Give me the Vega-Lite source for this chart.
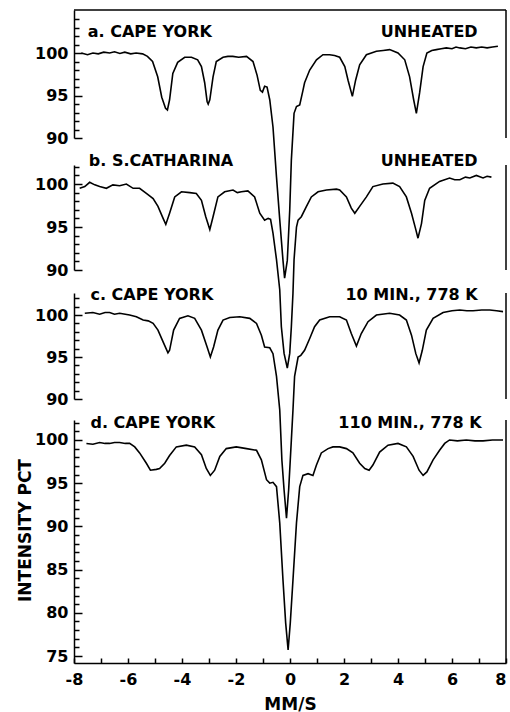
{
  "$schema": "https://vega.github.io/schema/vega-lite/v6.json",
  "width": 432,
  "height": 653,
  "autosize": {"type": "none"},
  "padding": {"left": 74, "top": 10, "right": 4, "bottom": 49},
  "background": "white",
  "config": {
    "view": {"stroke": null},
    "font": "DejaVu Sans",
    "axis": {
      "domainColor": "black", "domainWidth": 1.5,
      "tickColor": "black", "tickWidth": 1.5, "tickCount": 200,
      "labelColor": "black", "labelFont": "DejaVu Sans", "labelFontWeight": "bold", "labelFontSize": 16,
      "titleColor": "black", "titleFont": "DejaVu Sans", "titleFontWeight": "bold", "titleFontSize": 17,
      "grid": false, "labelFlush": false, "labelOverlap": false, "labelBound": false
    }
  },
  "datasets": {
    "a": [
      {"velocity": -7.73, "intensity": 100.0}, {"velocity": -7.5, "intensity": 99.8}, {"velocity": -7.3, "intensity": 100.0}, {"velocity": -7.1, "intensity": 99.9}, {"velocity": -6.9, "intensity": 100.1}, {"velocity": -6.68, "intensity": 100.0}, {"velocity": -6.5, "intensity": 100.15}, {"velocity": -6.3, "intensity": 99.95}, {"velocity": -6.12, "intensity": 100.1}, {"velocity": -5.9, "intensity": 99.9}, {"velocity": -5.7, "intensity": 100.0}, {"velocity": -5.46, "intensity": 99.9}, {"velocity": -5.28, "intensity": 99.6}, {"velocity": -5.09, "intensity": 99.0}, {"velocity": -4.9, "intensity": 97.2}, {"velocity": -4.75, "intensity": 94.8}, {"velocity": -4.61, "intensity": 93.5}, {"velocity": -4.54, "intensity": 93.3}, {"velocity": -4.46, "intensity": 94.5}, {"velocity": -4.34, "intensity": 97.6}, {"velocity": -4.16, "intensity": 98.9}, {"velocity": -3.9, "intensity": 99.5}, {"velocity": -3.65, "intensity": 99.5}, {"velocity": -3.42, "intensity": 99.2}, {"velocity": -3.28, "intensity": 98.4}, {"velocity": -3.16, "intensity": 96.5}, {"velocity": -3.07, "intensity": 94.3}, {"velocity": -3.03, "intensity": 94.0}, {"velocity": -2.97, "intensity": 94.5}, {"velocity": -2.85, "intensity": 97.2}, {"velocity": -2.73, "intensity": 99.0}, {"velocity": -2.48, "intensity": 99.5}, {"velocity": -2.3, "intensity": 99.6}, {"velocity": -2.12, "intensity": 99.6}, {"velocity": -1.9, "intensity": 99.5}, {"velocity": -1.61, "intensity": 99.6}, {"velocity": -1.37, "intensity": 99.0}, {"velocity": -1.22, "intensity": 97.4}, {"velocity": -1.1, "intensity": 95.6}, {"velocity": -1.02, "intensity": 95.4}, {"velocity": -0.94, "intensity": 96.1}, {"velocity": -0.85, "intensity": 96.0}, {"velocity": -0.75, "intensity": 94.5}, {"velocity": -0.63, "intensity": 91.3}, {"velocity": -0.5, "intensity": 85.4}, {"velocity": -0.38, "intensity": 80.4}, {"velocity": -0.26, "intensity": 75.6}, {"velocity": -0.2, "intensity": 73.5}, {"velocity": -0.1, "intensity": 75.6}, {"velocity": -0.01, "intensity": 81.5}, {"velocity": 0.05, "intensity": 87.4}, {"velocity": 0.15, "intensity": 92.9}, {"velocity": 0.24, "intensity": 93.7}, {"velocity": 0.36, "intensity": 93.9}, {"velocity": 0.48, "intensity": 95.6}, {"velocity": 0.54, "intensity": 96.5}, {"velocity": 0.73, "intensity": 98.0}, {"velocity": 0.98, "intensity": 99.2}, {"velocity": 1.22, "intensity": 99.8}, {"velocity": 1.47, "intensity": 99.8}, {"velocity": 1.65, "intensity": 99.7}, {"velocity": 1.84, "intensity": 99.5}, {"velocity": 2.03, "intensity": 98.4}, {"velocity": 2.15, "intensity": 96.8}, {"velocity": 2.31, "intensity": 94.9}, {"velocity": 2.43, "intensity": 96.8}, {"velocity": 2.58, "intensity": 98.6}, {"velocity": 2.83, "intensity": 99.8}, {"velocity": 3.2, "intensity": 100.2}, {"velocity": 3.45, "intensity": 100.3}, {"velocity": 3.69, "intensity": 100.4}, {"velocity": 4.0, "intensity": 100.0}, {"velocity": 4.25, "intensity": 99.2}, {"velocity": 4.43, "intensity": 97.2}, {"velocity": 4.58, "intensity": 94.5}, {"velocity": 4.68, "intensity": 92.9}, {"velocity": 4.8, "intensity": 95.3}, {"velocity": 4.93, "intensity": 98.4}, {"velocity": 5.07, "intensity": 100.0}, {"velocity": 5.25, "intensity": 100.3}, {"velocity": 5.42, "intensity": 100.4}, {"velocity": 5.6, "intensity": 100.5}, {"velocity": 5.79, "intensity": 100.6}, {"velocity": 6.0, "intensity": 100.5}, {"velocity": 6.15, "intensity": 100.7}, {"velocity": 6.29, "intensity": 100.6}, {"velocity": 6.5, "intensity": 100.5}, {"velocity": 6.7, "intensity": 100.7}, {"velocity": 6.9, "intensity": 100.6}, {"velocity": 7.1, "intensity": 100.7}, {"velocity": 7.3, "intensity": 100.6}, {"velocity": 7.5, "intensity": 100.7}, {"velocity": 7.7, "intensity": 100.8}
    ],
    "b": [
      {"velocity": -7.79, "intensity": 99.5}, {"velocity": -7.6, "intensity": 99.7}, {"velocity": -7.42, "intensity": 100.2}, {"velocity": -7.23, "intensity": 99.9}, {"velocity": -7.05, "intensity": 99.7}, {"velocity": -6.8, "intensity": 99.5}, {"velocity": -6.56, "intensity": 99.9}, {"velocity": -6.31, "intensity": 99.8}, {"velocity": -6.06, "intensity": 100.0}, {"velocity": -5.81, "intensity": 99.5}, {"velocity": -5.57, "intensity": 99.5}, {"velocity": -5.32, "intensity": 98.9}, {"velocity": -5.07, "intensity": 98.3}, {"velocity": -4.89, "intensity": 97.4}, {"velocity": -4.7, "intensity": 96.0}, {"velocity": -4.6, "intensity": 95.3}, {"velocity": -4.46, "intensity": 96.6}, {"velocity": -4.27, "intensity": 98.5}, {"velocity": -4.02, "intensity": 99.1}, {"velocity": -3.71, "intensity": 99.0}, {"velocity": -3.47, "intensity": 98.9}, {"velocity": -3.28, "intensity": 98.1}, {"velocity": -3.12, "intensity": 96.2}, {"velocity": -2.97, "intensity": 94.7}, {"velocity": -2.85, "intensity": 96.2}, {"velocity": -2.67, "intensity": 98.5}, {"velocity": -2.42, "intensity": 99.1}, {"velocity": -2.11, "intensity": 99.3}, {"velocity": -1.95, "intensity": 99.0}, {"velocity": -1.8, "intensity": 99.1}, {"velocity": -1.56, "intensity": 99.2}, {"velocity": -1.31, "intensity": 98.5}, {"velocity": -1.12, "intensity": 96.6}, {"velocity": -0.94, "intensity": 95.8}, {"velocity": -0.81, "intensity": 96.0}, {"velocity": -0.72, "intensity": 95.9}, {"velocity": -0.63, "intensity": 94.3}, {"velocity": -0.5, "intensity": 91.2}, {"velocity": -0.38, "intensity": 87.7}, {"velocity": -0.32, "intensity": 83.4}, {"velocity": -0.22, "intensity": 80.3}, {"velocity": -0.1, "intensity": 78.6}, {"velocity": -0.01, "intensity": 80.3}, {"velocity": 0.05, "intensity": 83.4}, {"velocity": 0.11, "intensity": 87.3}, {"velocity": 0.15, "intensity": 91.2}, {"velocity": 0.24, "intensity": 95.0}, {"velocity": 0.3, "intensity": 95.8}, {"velocity": 0.42, "intensity": 96.2}, {"velocity": 0.61, "intensity": 97.4}, {"velocity": 0.79, "intensity": 98.5}, {"velocity": 1.04, "intensity": 99.1}, {"velocity": 1.35, "intensity": 99.3}, {"velocity": 1.72, "intensity": 99.4}, {"velocity": 1.84, "intensity": 99.3}, {"velocity": 2.09, "intensity": 98.5}, {"velocity": 2.27, "intensity": 97.2}, {"velocity": 2.4, "intensity": 96.6}, {"velocity": 2.58, "intensity": 97.4}, {"velocity": 2.83, "intensity": 98.5}, {"velocity": 3.07, "intensity": 99.7}, {"velocity": 3.44, "intensity": 100.0}, {"velocity": 3.81, "intensity": 100.1}, {"velocity": 4.06, "intensity": 99.7}, {"velocity": 4.31, "intensity": 98.5}, {"velocity": 4.5, "intensity": 96.6}, {"velocity": 4.66, "intensity": 94.7}, {"velocity": 4.74, "intensity": 93.7}, {"velocity": 4.87, "intensity": 95.4}, {"velocity": 4.99, "intensity": 98.1}, {"velocity": 5.17, "intensity": 99.5}, {"velocity": 5.54, "intensity": 100.3}, {"velocity": 5.91, "intensity": 100.7}, {"velocity": 6.1, "intensity": 100.5}, {"velocity": 6.29, "intensity": 100.5}, {"velocity": 6.5, "intensity": 100.8}, {"velocity": 6.66, "intensity": 100.7}, {"velocity": 6.9, "intensity": 101.0}, {"velocity": 7.15, "intensity": 100.7}, {"velocity": 7.3, "intensity": 100.9}, {"velocity": 7.46, "intensity": 100.8}
    ],
    "c": [
      {"velocity": -7.6, "intensity": 100.2}, {"velocity": -7.3, "intensity": 100.3}, {"velocity": -7.05, "intensity": 100.1}, {"velocity": -6.85, "intensity": 100.3}, {"velocity": -6.68, "intensity": 100.3}, {"velocity": -6.5, "intensity": 100.1}, {"velocity": -6.31, "intensity": 100.2}, {"velocity": -6.1, "intensity": 100.1}, {"velocity": -5.94, "intensity": 100.0}, {"velocity": -5.69, "intensity": 99.8}, {"velocity": -5.44, "intensity": 99.4}, {"velocity": -5.25, "intensity": 99.3}, {"velocity": -5.07, "intensity": 99.0}, {"velocity": -4.89, "intensity": 98.2}, {"velocity": -4.7, "intensity": 96.8}, {"velocity": -4.52, "intensity": 95.5}, {"velocity": -4.46, "intensity": 95.8}, {"velocity": -4.31, "intensity": 98.2}, {"velocity": -4.09, "intensity": 99.6}, {"velocity": -3.78, "intensity": 99.9}, {"velocity": -3.53, "intensity": 99.6}, {"velocity": -3.28, "intensity": 98.2}, {"velocity": -3.07, "intensity": 96.2}, {"velocity": -2.95, "intensity": 95.0}, {"velocity": -2.83, "intensity": 96.2}, {"velocity": -2.67, "intensity": 98.2}, {"velocity": -2.48, "intensity": 99.4}, {"velocity": -2.23, "intensity": 99.7}, {"velocity": -1.86, "intensity": 99.8}, {"velocity": -1.49, "intensity": 99.6}, {"velocity": -1.24, "intensity": 99.0}, {"velocity": -1.06, "intensity": 97.6}, {"velocity": -0.94, "intensity": 96.2}, {"velocity": -0.75, "intensity": 96.1}, {"velocity": -0.63, "intensity": 95.4}, {"velocity": -0.5, "intensity": 92.7}, {"velocity": -0.38, "intensity": 88.7}, {"velocity": -0.3, "intensity": 82.7}, {"velocity": -0.22, "intensity": 79.2}, {"velocity": -0.13, "intensity": 75.8}, {"velocity": -0.05, "intensity": 79.2}, {"velocity": 0.05, "intensity": 85.1}, {"velocity": 0.11, "intensity": 88.7}, {"velocity": 0.17, "intensity": 92.7}, {"velocity": 0.3, "intensity": 95.0}, {"velocity": 0.4, "intensity": 95.2}, {"velocity": 0.54, "intensity": 95.8}, {"velocity": 0.73, "intensity": 97.2}, {"velocity": 0.91, "intensity": 98.6}, {"velocity": 1.1, "intensity": 99.4}, {"velocity": 1.47, "intensity": 99.8}, {"velocity": 1.84, "intensity": 99.8}, {"velocity": 2.09, "intensity": 99.4}, {"velocity": 2.27, "intensity": 97.8}, {"velocity": 2.46, "intensity": 96.3}, {"velocity": 2.64, "intensity": 97.8}, {"velocity": 2.89, "intensity": 99.2}, {"velocity": 3.2, "intensity": 100.0}, {"velocity": 3.69, "intensity": 100.2}, {"velocity": 4.06, "intensity": 100.0}, {"velocity": 4.31, "intensity": 99.4}, {"velocity": 4.5, "intensity": 97.6}, {"velocity": 4.66, "intensity": 95.4}, {"velocity": 4.78, "intensity": 94.3}, {"velocity": 4.9, "intensity": 95.8}, {"velocity": 5.05, "intensity": 98.2}, {"velocity": 5.3, "intensity": 99.6}, {"velocity": 5.67, "intensity": 100.3}, {"velocity": 6.0, "intensity": 100.5}, {"velocity": 6.29, "intensity": 100.6}, {"velocity": 6.55, "intensity": 100.5}, {"velocity": 6.78, "intensity": 100.5}, {"velocity": 7.1, "intensity": 100.6}, {"velocity": 7.4, "intensity": 100.6}, {"velocity": 7.65, "intensity": 100.5}, {"velocity": 7.89, "intensity": 100.4}
    ],
    "d": [
      {"velocity": -7.54, "intensity": 99.6}, {"velocity": -7.3, "intensity": 99.5}, {"velocity": -7.05, "intensity": 99.7}, {"velocity": -6.85, "intensity": 99.6}, {"velocity": -6.68, "intensity": 99.6}, {"velocity": -6.5, "intensity": 99.7}, {"velocity": -6.31, "intensity": 99.7}, {"velocity": -6.1, "intensity": 99.6}, {"velocity": -5.94, "intensity": 99.6}, {"velocity": -5.75, "intensity": 99.2}, {"velocity": -5.57, "intensity": 98.5}, {"velocity": -5.32, "intensity": 97.3}, {"velocity": -5.17, "intensity": 96.5}, {"velocity": -4.95, "intensity": 96.6}, {"velocity": -4.83, "intensity": 96.7}, {"velocity": -4.64, "intensity": 97.3}, {"velocity": -4.46, "intensity": 98.2}, {"velocity": -4.21, "intensity": 99.2}, {"velocity": -3.84, "intensity": 99.4}, {"velocity": -3.53, "intensity": 99.2}, {"velocity": -3.28, "intensity": 98.3}, {"velocity": -3.1, "intensity": 96.7}, {"velocity": -2.95, "intensity": 95.9}, {"velocity": -2.79, "intensity": 96.5}, {"velocity": -2.6, "intensity": 98.1}, {"velocity": -2.36, "intensity": 99.0}, {"velocity": -1.99, "intensity": 99.2}, {"velocity": -1.61, "intensity": 99.0}, {"velocity": -1.24, "intensity": 98.8}, {"velocity": -1.06, "intensity": 97.7}, {"velocity": -0.87, "intensity": 95.4}, {"velocity": -0.75, "intensity": 95.0}, {"velocity": -0.63, "intensity": 95.1}, {"velocity": -0.5, "intensity": 94.6}, {"velocity": -0.38, "intensity": 90.4}, {"velocity": -0.26, "intensity": 83.8}, {"velocity": -0.16, "intensity": 78.8}, {"velocity": -0.07, "intensity": 75.7}, {"velocity": 0.01, "intensity": 78.8}, {"velocity": 0.11, "intensity": 83.8}, {"velocity": 0.24, "intensity": 90.4}, {"velocity": 0.36, "intensity": 94.6}, {"velocity": 0.48, "intensity": 95.9}, {"velocity": 0.67, "intensity": 96.1}, {"velocity": 0.85, "intensity": 95.9}, {"velocity": 0.98, "intensity": 97.1}, {"velocity": 1.16, "intensity": 98.5}, {"velocity": 1.41, "intensity": 99.0}, {"velocity": 1.59, "intensity": 99.2}, {"velocity": 1.84, "intensity": 99.2}, {"velocity": 2.09, "intensity": 99.0}, {"velocity": 2.33, "intensity": 98.5}, {"velocity": 2.58, "intensity": 97.3}, {"velocity": 2.77, "intensity": 96.7}, {"velocity": 2.93, "intensity": 96.5}, {"velocity": 3.07, "intensity": 97.1}, {"velocity": 3.32, "intensity": 98.6}, {"velocity": 3.63, "intensity": 99.4}, {"velocity": 4.0, "intensity": 99.6}, {"velocity": 4.31, "intensity": 99.2}, {"velocity": 4.56, "intensity": 98.1}, {"velocity": 4.78, "intensity": 96.5}, {"velocity": 4.93, "intensity": 95.9}, {"velocity": 5.07, "intensity": 96.3}, {"velocity": 5.3, "intensity": 97.7}, {"velocity": 5.54, "intensity": 98.8}, {"velocity": 5.73, "intensity": 99.6}, {"velocity": 5.91, "intensity": 100.0}, {"velocity": 6.2, "intensity": 99.9}, {"velocity": 6.53, "intensity": 100.0}, {"velocity": 6.85, "intensity": 99.9}, {"velocity": 7.15, "intensity": 99.9}, {"velocity": 7.5, "intensity": 100.0}, {"velocity": 7.89, "intensity": 100.0}
    ],
    "labels": [
      {"panel": "a", "side": "left", "velocity": -7.49, "intensity": 102.47, "label": "a. CAPE YORK"},
      {"panel": "a", "side": "right", "velocity": 6.95, "intensity": 102.47, "label": "UNHEATED"},
      {"panel": "b", "side": "left", "velocity": -7.45, "intensity": 102.67, "label": "b. S.CATHARINA"},
      {"panel": "b", "side": "right", "velocity": 6.95, "intensity": 102.67, "label": "UNHEATED"},
      {"panel": "c", "side": "left", "velocity": -7.39, "intensity": 102.38, "label": "c. CAPE YORK"},
      {"panel": "c", "side": "right", "velocity": 6.95, "intensity": 102.38, "label": "10 MIN., 778 K"},
      {"panel": "d", "side": "left", "velocity": -7.39, "intensity": 101.97, "label": "d. CAPE YORK"},
      {"panel": "d", "side": "right", "velocity": 7.1, "intensity": 101.97, "label": "110 MIN., 778 K"}
    ],
    "frame": [
      {"panel": "a", "x0": 8, "lo": 90, "hi": 105.06},
      {"panel": "b", "x0": 8, "lo": 90, "hi": 102.21},
      {"panel": "c", "x0": 8, "lo": 90, "hi": 102.62},
      {"panel": "d", "x0": 8, "lo": 74.19, "hi": 102.31}
    ],
    "topBorder": [
      {"x0": -8, "x1": 8, "level": 105.06}
    ]
  },
  "encoding": {
    "x": {
      "field": "velocity", "type": "quantitative",
      "scale": {"domain": [-8, 8], "nice": false, "zero": false},
      "axis": {
        "orient": "bottom", "title": "MM/S", "titlePadding": 9, "tickCount": 200,
        "values": [-8, -7, -6, -5, -4, -3, -2, -1, 0, 1, 2, 3, 4, 5, 6, 7, 8],
        "labelExpr": "datum.value % 2 === 0 ? '' + datum.value : ''",
        "labelAlign": {"condition": {"test": "datum.value === 8", "value": "right"}, "value": "center"},
        "labelOverlap": false,
        "tickSize": -5, "labelPadding": 13
      }
    }
  },
  "layer": [
    {
      "data": {"name": "a"},
      "layer": [
        {
          "mark": {"type": "line", "color": "black", "strokeWidth": 1.6},
          "encoding": {
            "y": {
              "field": "intensity", "type": "quantitative",
              "scale": {"domain": [90, 105.06], "range": [128, 0], "nice": false, "zero": false},
              "axis": {
                "orient": "left", "title": null, "labelOverlap": false, "tickCount": 200,
                "values": [90, 91, 92, 93, 94, 95, 96, 97, 98, 99, 100, 101, 102, 103, 104],
                "labelExpr": "datum.value % 5 === 0 ? '' + datum.value : ''",
                "tickSize": {"condition": {"test": "datum.value % 5 === 0", "value": -8}, "value": -5},
                "labelPadding": 14
              }
            }
          }
        },
        {
          "data": {"name": "labels"},
          "transform": [{"filter": "datum.panel === 'a' && datum.side === 'left'"}],
          "mark": {"type": "text", "align": "left", "baseline": "middle", "font": "DejaVu Sans", "fontWeight": "bold", "fontSize": 16, "color": "black"},
          "encoding": {"y": {"field": "intensity", "type": "quantitative"}, "text": {"field": "label"}}
        },
        {
          "data": {"name": "labels"},
          "transform": [{"filter": "datum.panel === 'a' && datum.side === 'right'"}],
          "mark": {"type": "text", "align": "right", "baseline": "middle", "font": "DejaVu Sans", "fontWeight": "bold", "fontSize": 16, "color": "black"},
          "encoding": {"y": {"field": "intensity", "type": "quantitative"}, "text": {"field": "label"}}
        },
        {
          "data": {"name": "frame"},
          "transform": [{"filter": "datum.panel === 'a'"}],
          "mark": {"type": "rule", "color": "black", "strokeWidth": 1.5},
          "encoding": {"x": {"field": "x0", "type": "quantitative"}, "y": {"field": "lo", "type": "quantitative"}, "y2": {"field": "hi"}}
        },
        {
          "data": {"name": "topBorder"},
          "mark": {"type": "rule", "color": "black", "strokeWidth": 1.5},
          "encoding": {"x": {"field": "x0", "type": "quantitative"}, "x2": {"field": "x1"}, "y": {"field": "level", "type": "quantitative"}}
        }
      ]
    },
    {
      "data": {"name": "b"},
      "layer": [
        {
          "mark": {"type": "line", "color": "black", "strokeWidth": 1.6},
          "encoding": {
            "y": {
              "field": "intensity", "type": "quantitative",
              "scale": {"domain": [90, 102.21], "range": [260, 155], "nice": false, "zero": false},
              "axis": {
                "orient": "left", "title": null, "labelOverlap": false, "tickCount": 200,
                "values": [90, 91, 92, 93, 94, 95, 96, 97, 98, 99, 100, 101, 102],
                "labelExpr": "datum.value % 5 === 0 ? '' + datum.value : ''",
                "tickSize": {"condition": {"test": "datum.value % 5 === 0", "value": -8}, "value": -5},
                "labelPadding": 14
              }
            }
          }
        },
        {
          "data": {"name": "labels"},
          "transform": [{"filter": "datum.panel === 'b' && datum.side === 'left'"}],
          "mark": {"type": "text", "align": "left", "baseline": "middle", "font": "DejaVu Sans", "fontWeight": "bold", "fontSize": 16, "color": "black"},
          "encoding": {"y": {"field": "intensity", "type": "quantitative"}, "text": {"field": "label"}}
        },
        {
          "data": {"name": "labels"},
          "transform": [{"filter": "datum.panel === 'b' && datum.side === 'right'"}],
          "mark": {"type": "text", "align": "right", "baseline": "middle", "font": "DejaVu Sans", "fontWeight": "bold", "fontSize": 16, "color": "black"},
          "encoding": {"y": {"field": "intensity", "type": "quantitative"}, "text": {"field": "label"}}
        },
        {
          "data": {"name": "frame"},
          "transform": [{"filter": "datum.panel === 'b'"}],
          "mark": {"type": "rule", "color": "black", "strokeWidth": 1.5},
          "encoding": {"x": {"field": "x0", "type": "quantitative"}, "y": {"field": "lo", "type": "quantitative"}, "y2": {"field": "hi"}}
        }
      ]
    },
    {
      "data": {"name": "c"},
      "layer": [
        {
          "mark": {"type": "line", "color": "black", "strokeWidth": 1.6},
          "encoding": {
            "y": {
              "field": "intensity", "type": "quantitative",
              "scale": {"domain": [90, 102.62], "range": [389, 283], "nice": false, "zero": false},
              "axis": {
                "orient": "left", "title": null, "labelOverlap": false, "tickCount": 200,
                "values": [90, 91, 92, 93, 94, 95, 96, 97, 98, 99, 100, 101, 102],
                "labelExpr": "datum.value % 5 === 0 ? '' + datum.value : ''",
                "tickSize": {"condition": {"test": "datum.value % 5 === 0", "value": -8}, "value": -5},
                "labelPadding": 14
              }
            }
          }
        },
        {
          "data": {"name": "labels"},
          "transform": [{"filter": "datum.panel === 'c' && datum.side === 'left'"}],
          "mark": {"type": "text", "align": "left", "baseline": "middle", "font": "DejaVu Sans", "fontWeight": "bold", "fontSize": 16, "color": "black"},
          "encoding": {"y": {"field": "intensity", "type": "quantitative"}, "text": {"field": "label"}}
        },
        {
          "data": {"name": "labels"},
          "transform": [{"filter": "datum.panel === 'c' && datum.side === 'right'"}],
          "mark": {"type": "text", "align": "right", "baseline": "middle", "font": "DejaVu Sans", "fontWeight": "bold", "fontSize": 16, "color": "black"},
          "encoding": {"y": {"field": "intensity", "type": "quantitative"}, "text": {"field": "label"}}
        },
        {
          "data": {"name": "frame"},
          "transform": [{"filter": "datum.panel === 'c'"}],
          "mark": {"type": "rule", "color": "black", "strokeWidth": 1.5},
          "encoding": {"x": {"field": "x0", "type": "quantitative"}, "y": {"field": "lo", "type": "quantitative"}, "y2": {"field": "hi"}}
        }
      ]
    },
    {
      "data": {"name": "d"},
      "layer": [
        {
          "mark": {"type": "line", "color": "black", "strokeWidth": 1.6},
          "encoding": {
            "y": {
              "field": "intensity", "type": "quantitative",
              "scale": {"domain": [74.19, 102.31], "range": [653, 410], "nice": false, "zero": false},
              "axis": {
                "orient": "left", "title": "INTENSITY PCT", "labelOverlap": false, "tickCount": 200,
                "titleX": -49, "titleY": 520, "titleAngle": -90, "titleAlign": "center", "titleBaseline": "middle",
                "values": [75, 76, 77, 78, 79, 80, 81, 82, 83, 84, 85, 86, 87, 88, 89, 90, 91, 92, 93, 94, 95, 96, 97, 98, 99, 100, 101, 102],
                "labelExpr": "datum.value % 5 === 0 ? '' + datum.value : ''",
                "tickSize": {"condition": {"test": "datum.value % 5 === 0", "value": -8}, "value": -5},
                "labelPadding": 14
              }
            }
          }
        },
        {
          "data": {"name": "labels"},
          "transform": [{"filter": "datum.panel === 'd' && datum.side === 'left'"}],
          "mark": {"type": "text", "align": "left", "baseline": "middle", "font": "DejaVu Sans", "fontWeight": "bold", "fontSize": 16, "color": "black"},
          "encoding": {"y": {"field": "intensity", "type": "quantitative"}, "text": {"field": "label"}}
        },
        {
          "data": {"name": "labels"},
          "transform": [{"filter": "datum.panel === 'd' && datum.side === 'right'"}],
          "mark": {"type": "text", "align": "right", "baseline": "middle", "font": "DejaVu Sans", "fontWeight": "bold", "fontSize": 16, "color": "black"},
          "encoding": {"y": {"field": "intensity", "type": "quantitative"}, "text": {"field": "label"}}
        },
        {
          "data": {"name": "frame"},
          "transform": [{"filter": "datum.panel === 'd'"}],
          "mark": {"type": "rule", "color": "black", "strokeWidth": 1.5},
          "encoding": {"x": {"field": "x0", "type": "quantitative"}, "y": {"field": "lo", "type": "quantitative"}, "y2": {"field": "hi"}}
        }
      ]
    }
  ],
  "resolve": {"scale": {"y": "independent"}, "axis": {"y": "independent"}}
}
